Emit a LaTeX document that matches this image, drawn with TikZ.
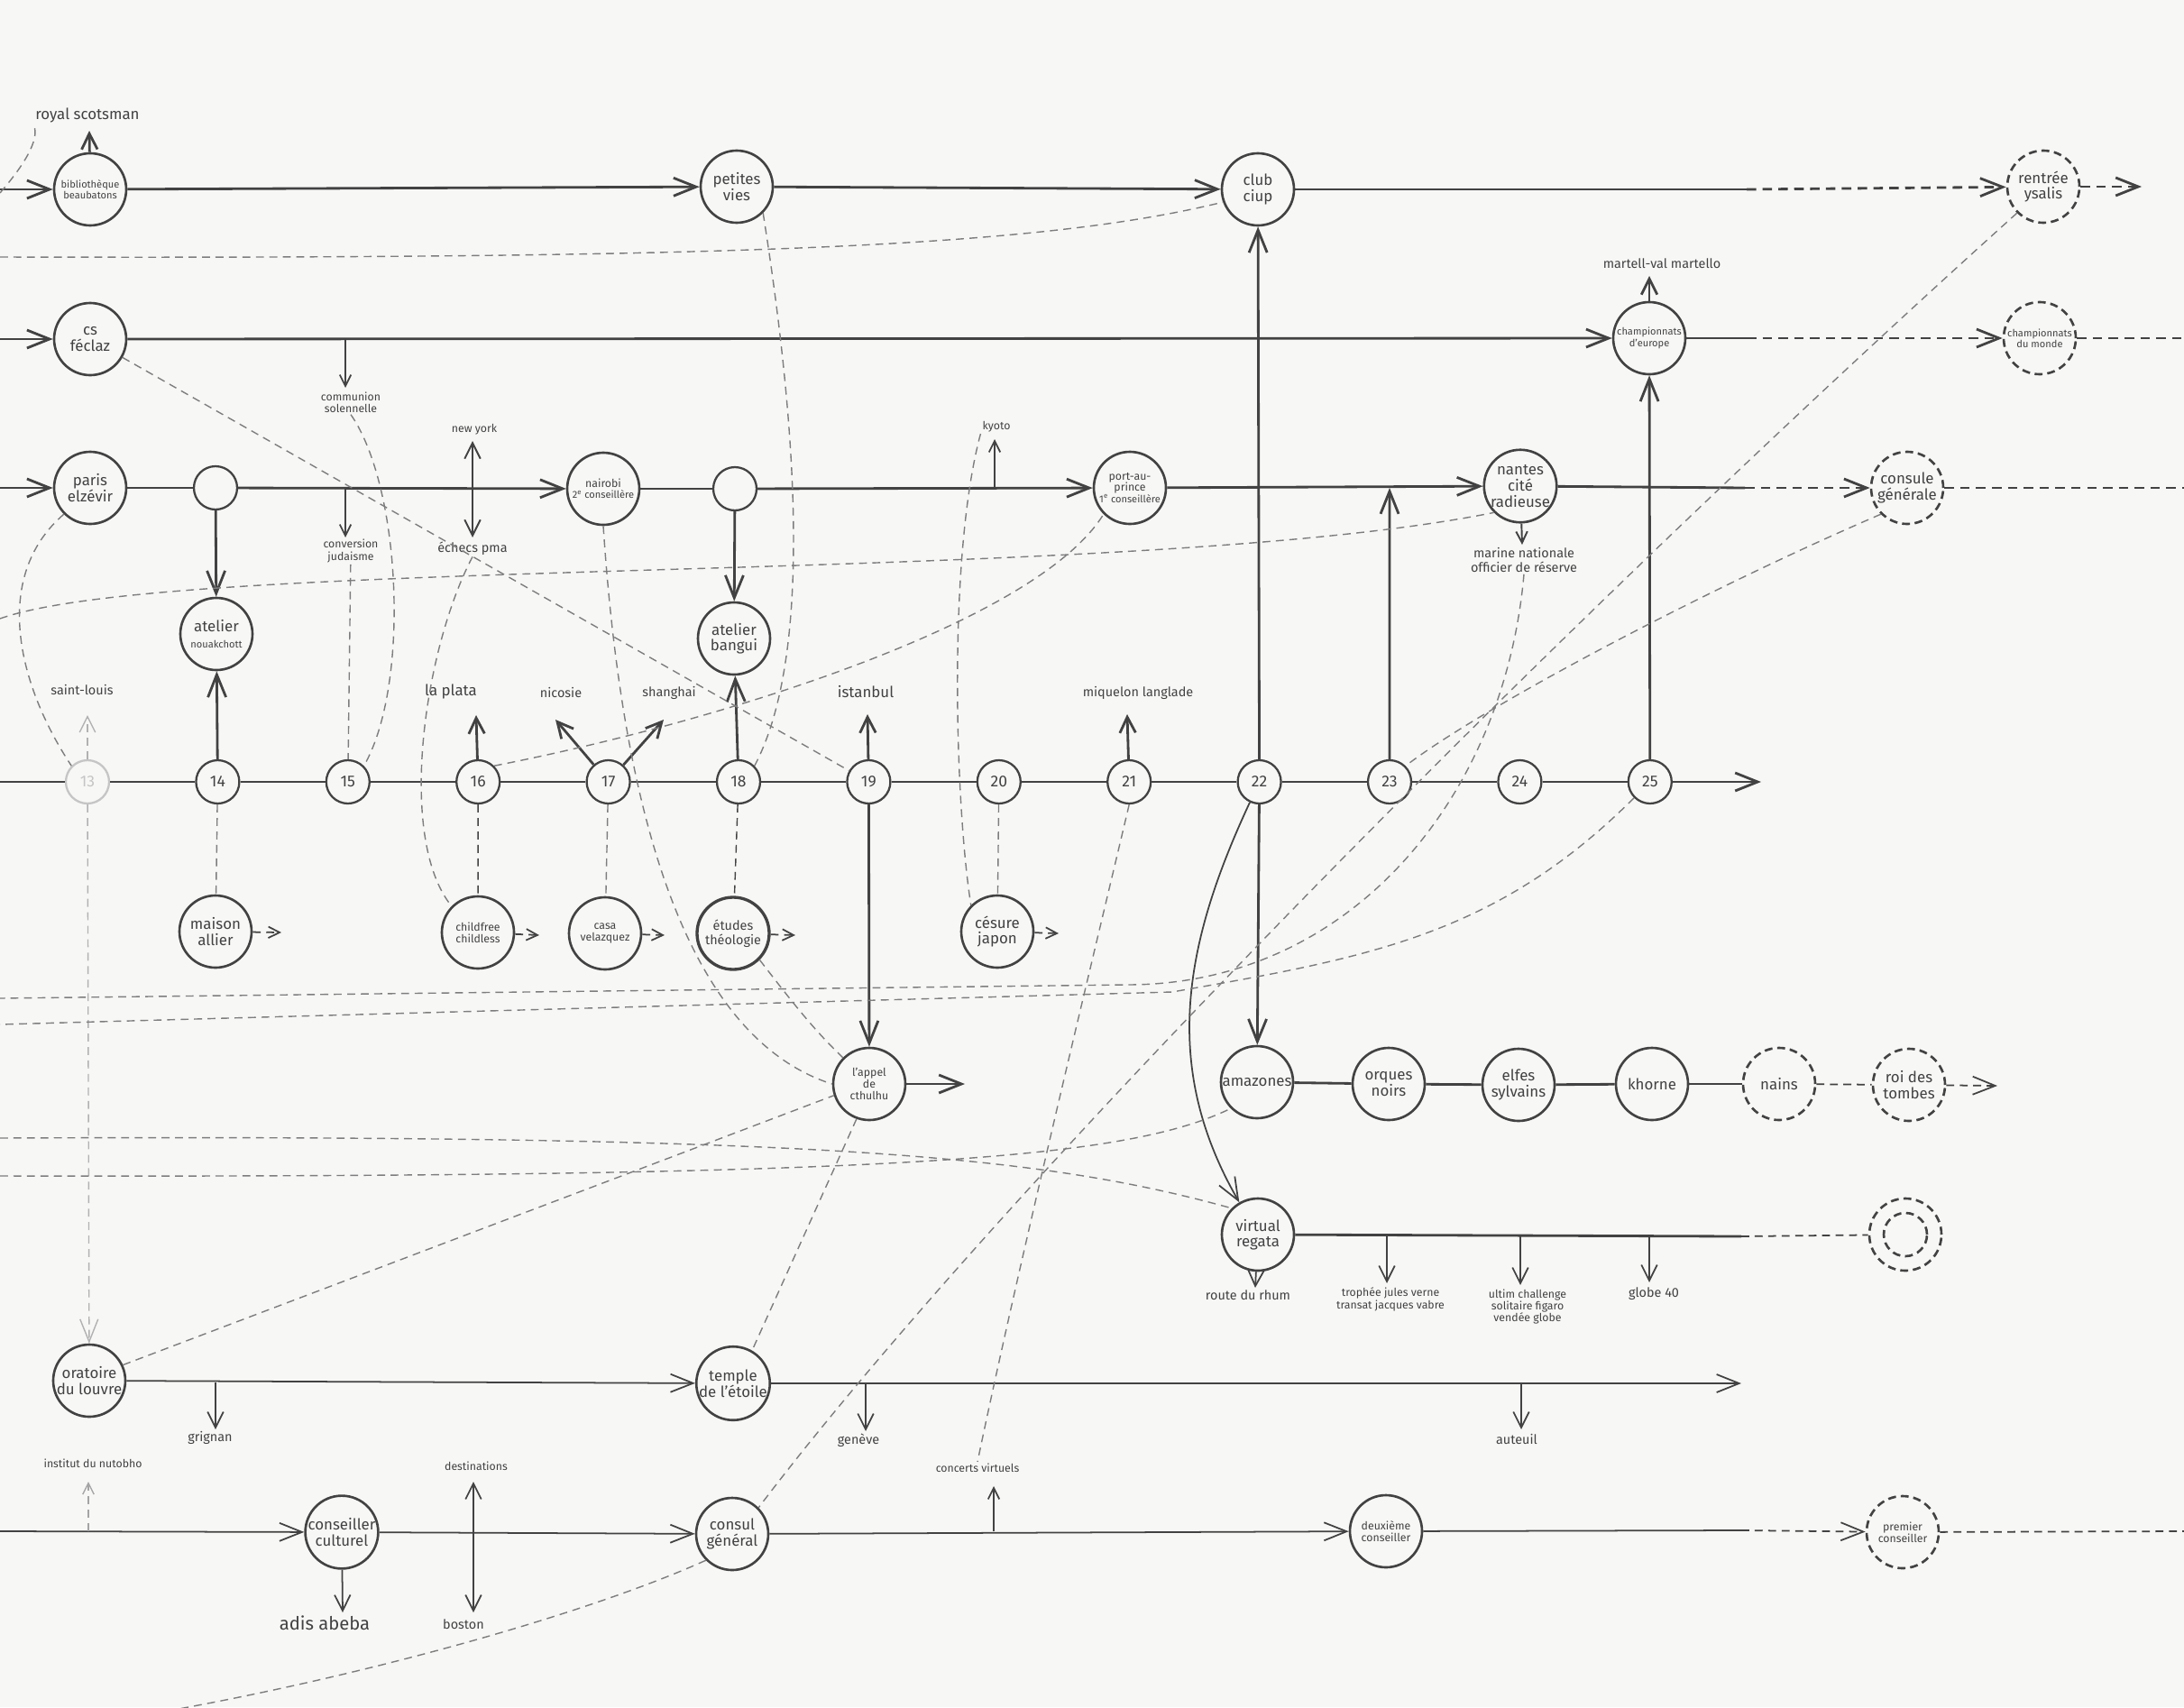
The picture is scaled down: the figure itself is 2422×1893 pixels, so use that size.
\documentclass[tikz,border=0pt]{standalone}
\usepackage{fontspec}
\setmainfont{Fira Sans}
\usetikzlibrary{arrows.meta}
\definecolor{pencil}{RGB}{66,66,66}
\definecolor{lead}{RGB}{125,125,125}
\definecolor{paper}{RGB}{247,247,246}
\newcommand{\hand}{\fontsize{9.6}{10}\selectfont}
\newcommand{\handsm}{\fontsize{8.2}{9}\selectfont}
\newcommand{\handxs}{\fontsize{7}{7.6}\selectfont}
\newcommand{\handtiny}{\fontsize{6.3}{7}\selectfont}
\newcommand{\handnum}{\fontsize{10}{11}\selectfont}
\newcommand{\handbig}{\fontsize{11.5}{12.5}\selectfont}
\tikzset{
  station/.style={circle, draw=pencil, line width=1.5pt, minimum size=1.6cm,
    inner sep=0pt, align=center, font=\hand, text=pencil},
  year/.style={circle, draw=pencil, line width=1.3pt, minimum size=0.96cm,
    inner sep=0pt, font=\handnum, text=pencil},
  future/.style={station, dash pattern=on 5pt off 3pt},
  track/.style={draw=pencil, line width=1.6pt},
  thintrack/.style={draw=pencil, line width=1pt},
  plan/.style={track, dash pattern=on 6pt off 4pt},
  link/.style={draw=lead, line width=0.8pt, dash pattern=on 5pt off 3.5pt},
  lbl/.style={font=\handsm, text=pencil, align=center, inner sep=1pt},
  bigarrow/.style={-{Straight Barb[length=5mm,width=4mm]}},
  midarrow/.style={-{Straight Barb[length=3.5mm,width=3.5mm]}},
  smallarrow/.style={-{Straight Barb[length=2.5mm,width=2.5mm]}},
  twoway/.style={<->, >={Straight Barb[length=3.5mm,width=3.5mm]}},
}

\begin{document}
\begin{tikzpicture}[x=0.2mm, y=-0.2mm]
  \fill[paper] (0,0) rectangle (2422,1893);
  \useasboundingbox (0,0) rectangle (2422,1893);

  % --- free ends ---
  \coordinate (w0) at (0,214);
  \coordinate (w1) at (0,210);
  \coordinate (w2) at (0,376);
  \coordinate (w3) at (0,541);
  \coordinate (w4) at (0,867);
  \coordinate (w5) at (0,1698);
  \coordinate (w6) at (0,285);
  \coordinate (w7) at (0,686);
  \coordinate (w8) at (0,1107);
  \coordinate (w9) at (170,1900);
  \coordinate (w10) at (0,1262);
  \coordinate (w11) at (0,1304);
  \coordinate (w12) at (0,1136);
  \coordinate (e2) at (2422,375);
  \coordinate (e3) at (2422,541);
  \coordinate (e7) at (2422,1698);

  % --- row 1 ---
  \node[station, font=\handtiny] (bib) at (100,210) {bibliothèque\\beaubatons};
  \node[station] (petites) at (817,207) {petites\\vies};
  \node[station] (ciup) at (1395,210) {club\\ciup};
  \node[future] (ysalis) at (2266,207) {rentrée\\ysalis};
  \node[lbl, font=\hand] (royal) at (97,128) {royal scotsman};
  \coordinate (tipbib) at (99,145);
  \coordinate (r1a) at (1937,210);
  \coordinate (r1b) at (2375,207);
  \draw[track, bigarrow] (w1) -- (bib);
  \draw[track, bigarrow] (bib) -- (petites);
  \draw[track, bigarrow] (petites) -- (ciup);
  \draw[track] (ciup) -- (r1a);
  \draw[plan, bigarrow] (r1a) -- (ysalis);
  \draw[plan, bigarrow] (ysalis) -- (r1b);
  \draw[track, midarrow] (bib) -- (tipbib);

  % --- row 2 ---
  \node[station] (cs) at (100,376) {cs\\féclaz};
  \node[station, font=\handtiny] (europe) at (1829,375) {championnats\\d'europe};
  \node[future, font=\handtiny] (monde) at (2262,375) {championnats\\du monde};
  \node[lbl] (martell) at (1843,292) {martell-val martello};
  \node[lbl, font=\handxs] (communion) at (389,446) {communion\\solennelle};
  \coordinate (tipeu) at (1829,306);
  \coordinate (b2) at (383,376);
  \coordinate (tipcom) at (383,430);
  \coordinate (r2a) at (1937,375);
  \draw[track, bigarrow] (w2) -- (cs);
  \draw[track, bigarrow] (cs) -- (europe);
  \draw[track] (europe) -- (r2a);
  \draw[plan, bigarrow] (r2a) -- (monde);
  \draw[plan] (monde) -- (e2);
  \draw[thintrack, smallarrow] (b2) -- (tipcom);
  \draw[track, midarrow] (europe) -- (tipeu);

  % --- row 3 ---
  \node[station] (paris) at (100,541) {paris\\elzévir};
  \node[year] (void1) at (239,541) {};
  \node[station, font=\handtiny] (nairobi) at (669,542) {{\handxs nairobi}\\2\textsuperscript{e} conseillère};
  \node[year] (void2) at (815,542) {};
  \node[station, font=\handtiny] (port) at (1253,541) {{\handxs port-au-}\\{\handxs prince}\\1\textsuperscript{e} conseillère};
  \node[station] (nantes) at (1686,539) {nantes\\cité\\radieuse};
  \node[future] (consule) at (2115,541) {consule\\générale};
  \node[lbl, font=\handxs] (conversion) at (389,611) {conversion\\judaisme};
  \node[lbl, font=\handxs] (newyork) at (526,476) {new york};
  \node[lbl] (echecs) at (524,608) {échecs pma};
  \node[lbl, font=\handxs] (kyoto) at (1105,473) {kyoto};
  \node[lbl] (marine) at (1690,621) {marine nationale\\officier de réserve};
  \coordinate (b3) at (383,541);
  \coordinate (tipconv) at (383,596);
  \coordinate (ny1) at (524,489);
  \coordinate (ny2) at (524,596);
  \coordinate (k3) at (1103,541);
  \coordinate (tipky) at (1103,487);
  \coordinate (j23) at (1541,541);
  \coordinate (tipmar) at (1688,604);
  \coordinate (r3a) at (1935,541);
  \draw[track, bigarrow] (w3) -- (paris);
  \draw[track] (paris) -- (void1);
  \draw[track, bigarrow] (void1) -- (nairobi);
  \draw[track] (nairobi) -- (void2);
  \draw[track, bigarrow] (void2) -- (port);
  \draw[track, bigarrow] (port) -- (nantes);
  \draw[track] (nantes) -- (r3a);
  \draw[plan, bigarrow] (r3a) -- (consule);
  \draw[plan] (consule) -- (e3);
  \draw[thintrack, smallarrow] (b3) -- (tipconv);
  \draw[thintrack, smallarrow] (k3) -- (tipky);
  \draw[track, line width=1.1pt, twoway] (ny1) -- (ny2);
  \draw[track, line width=1.1pt, smallarrow] (nantes) -- (tipmar);

  % --- ateliers ---
  \node[station] (nouakchott) at (240,703) {atelier\\{\handtiny nouakchott}};
  \node[station] (bangui) at (814,708) {atelier\\bangui};
  \draw[track, bigarrow] (void1) -- (nouakchott);
  \draw[track, bigarrow] (void2) -- (bangui);

  % --- years ---
  \node[year, draw=lead!45, text=lead!45] (t13) at (97,867) {13};
  \foreach \n [count=\k from 1] in {14,...,25}
    \node[year] (t\n) at ({97+144.4*\k},867) {\n};
  \coordinate (tend) at (1953,867);
  \draw[track] (w4) -- (t13);
  \foreach \n in {13,...,24} {
    \pgfmathtruncatemacro{\m}{\n+1}
    \draw[track] (t\n) -- (t\m);
  }
  \draw[track, bigarrow] (t25) -- (tend);
  \draw[track, bigarrow] (t14) -- (nouakchott);
  \draw[track, bigarrow] (t18) -- (bangui);
  \draw[track, bigarrow] (t22) -- (ciup);
  \draw[track, bigarrow] (t23) -- (j23);
  \draw[track, bigarrow] (t25) -- (europe);

  % places reached from the years
  \node[lbl] (stlouis) at (91,765) {saint-louis};
  \node[lbl, font=\hand] (laplata) at (500,767) {la plata};
  \node[lbl] (nicosie) at (622,768) {nicosie};
  \node[lbl] (shanghai) at (742,768) {shanghai};
  \node[lbl, font=\hand] (istanbul) at (960,767) {istanbul};
  \node[lbl] (miquelon) at (1262,768) {miquelon langlade};
  \coordinate (tip13) at (97,793);
  \coordinate (tip16) at (528,793);
  \coordinate (tip17a) at (616,798);
  \coordinate (tip17b) at (736,798);
  \coordinate (tip19) at (962,792);
  \coordinate (tip21) at (1250,792);
  \draw[link, draw=lead!60, midarrow] (t13) -- (tip13);
  \draw[track, midarrow] (t16) -- (tip16);
  \draw[track, midarrow] (t17) -- (tip17a);
  \draw[track, midarrow] (t17) -- (tip17b);
  \draw[track, midarrow] (t19) -- (tip19);
  \draw[track, midarrow] (t21) -- (tip21);

  % --- side stations under the years ---
  \node[station] (allier) at (239,1033) {maison\\allier};
  \node[station, font=\handxs] (childfree) at (530,1034) {childfree\\childless};
  \node[station, font=\handxs] (casa) at (671,1035) {casa\\velazquez};
  \node[station, font=\handsm, line width=1.9pt] (etudes) at (813,1035) {études\\théologie};
  \node[station] (cesure) at (1106,1033) {césure\\japon};
  \coordinate (allierout) at (312,1034);
  \coordinate (childfreeout) at (598,1037);
  \coordinate (casaout) at (737,1037);
  \coordinate (etudesout) at (882,1037);
  \coordinate (cesureout) at (1174,1035);
  \foreach \s in {allier, childfree, casa, etudes, cesure}
    \draw[link, draw=pencil, line width=1pt, smallarrow] (\s) -- (\s out);
  \draw[link] (t14) -- (allier);
  \draw[link, draw=pencil] (t16) -- (childfree);
  \draw[link] (t17) -- (casa);
  \draw[link, draw=pencil] (t18) -- (etudes);
  \draw[link] (t20) -- (cesure);

  % --- l'appel de cthulhu and the army line ---
  \node[station, font=\handxs] (appel) at (964,1202) {l'appel\\de\\cthulhu};
  \node[station] (amazones) at (1394,1200) {amazones};
  \node[station] (orques) at (1540,1202) {orques\\noirs};
  \node[station] (elfes) at (1684,1203) {elfes\\sylvains};
  \node[station] (khorne) at (1832,1202) {khorne};
  \node[future] (nains) at (1973,1202) {nains};
  \node[future] (tombes) at (2117,1203) {roi des\\tombes};
  \coordinate (appelout) at (1070,1202);
  \coordinate (tombesout) at (2215,1204);
  \draw[track, bigarrow] (t19) -- (appel);
  \draw[track, bigarrow] (appel) -- (appelout);
  \draw[track, bigarrow] (t22) -- (amazones);
  \draw[track] (amazones) -- (orques);
  \draw[track] (orques) -- (elfes);
  \draw[track] (elfes) -- (khorne);
  \draw[track] (khorne) -- (nains);
  \draw[link, draw=pencil, line width=1pt] (nains) -- (tombes);
  \draw[link, draw=pencil, line width=1pt, bigarrow] (tombes) -- (tombesout);

  % --- virtual regata ---
  \node[station] (regata) at (1395,1369) {virtual\\regata};
  \node[future] (finish) at (2113,1369) {};
  \node[future, minimum size=0.96cm] (finishcore) at (2113,1369) {};
  \node[lbl] (rhum) at (1384,1436) {route du rhum};
  \node[lbl, font=\handxs] (jules) at (1542,1441) {trophée jules verne\\transat jacques vabre};
  \node[lbl, font=\handxs] (ultim) at (1694,1449) {ultim challenge\\solitaire figaro\\vendée globe};
  \node[lbl] (globe) at (1834,1435) {globe 40};
  \coordinate (r5a) at (1931,1371);
  \coordinate (tiprhum) at (1392,1428);
  \coordinate (b23) at (1538,1371);
  \coordinate (tipjv) at (1538,1423);
  \coordinate (b24) at (1686,1371);
  \coordinate (tipul) at (1686,1425);
  \coordinate (b25) at (1829,1371);
  \coordinate (tipgl) at (1829,1422);
  \draw[thintrack, bigarrow] (t22) to[out=245, in=120] (regata);
  \draw[track] (regata) -- (r5a);
  \draw[link, draw=pencil, line width=1pt] (r5a) -- (finish);
  \draw[thintrack, midarrow] (regata) -- (tiprhum);
  \draw[thintrack, midarrow] (b23) -- (tipjv);
  \draw[thintrack, midarrow] (b24) -- (tipul);
  \draw[thintrack, midarrow] (b25) -- (tipgl);

  % --- oratoire line ---
  \node[station] (oratoire) at (99,1531) {oratoire\\du louvre};
  \node[station] (temple) at (813,1534) {temple\\de l'étoile};
  \node[lbl] (grignan) at (233,1594) {grignan};
  \node[lbl] (geneve) at (952,1597) {genève};
  \node[lbl] (auteuil) at (1682,1596) {auteuil};
  \coordinate (r6a) at (1931,1534);
  \coordinate (b6a) at (239,1533);
  \coordinate (tipgr) at (239,1585);
  \coordinate (b6b) at (960,1534);
  \coordinate (tipge) at (960,1587);
  \coordinate (b6c) at (1687,1534);
  \coordinate (tipau) at (1687,1585);
  \draw[link, draw=lead!60, bigarrow] (t13) -- (oratoire);
  \draw[thintrack, bigarrow] (oratoire) -- (temple);
  \draw[thintrack, bigarrow] (temple) -- (r6a);
  \draw[thintrack, midarrow] (b6a) -- (tipgr);
  \draw[thintrack, midarrow] (b6b) -- (tipge);
  \draw[thintrack, midarrow] (b6c) -- (tipau);

  % --- bottom line ---
  \node[station] (culturel) at (379,1699) {conseiller\\culturel};
  \node[station] (consul) at (812,1701) {consul\\général};
  \node[station, font=\handxs] (deuxieme) at (1537,1698) {deuxième\\conseiller};
  \node[future, font=\handxs] (premier) at (2110,1699) {premier\\conseiller};
  \node[lbl, font=\handxs] (institut) at (103,1623) {institut du nutobho};
  \node[lbl, font=\handbig] (adis) at (360,1800) {adis abeba};
  \node[lbl, font=\handxs] (destinations) at (528,1626) {destinations};
  \node[lbl] (boston) at (514,1801) {boston};
  \node[lbl, font=\handxs] (concerts) at (1084,1628) {concerts virtuels};
  \coordinate (b7a) at (98,1698);
  \coordinate (tipin) at (98,1643);
  \coordinate (tipad) at (380,1788);
  \coordinate (ds1) at (525,1643);
  \coordinate (ds2) at (525,1788);
  \coordinate (b7b) at (1102,1698);
  \coordinate (tipco) at (1102,1648);
  \coordinate (r7a) at (1931,1697);
  \draw[thintrack, bigarrow] (w5) -- (culturel);
  \draw[thintrack, bigarrow] (culturel) -- (consul);
  \draw[thintrack, bigarrow] (consul) -- (deuxieme);
  \draw[thintrack] (deuxieme) -- (r7a);
  \draw[link, draw=pencil, line width=1pt, bigarrow] (r7a) -- (premier);
  \draw[link, draw=pencil, line width=1pt] (premier) -- (e7);
  \draw[link, draw=lead!70, line width=0.8pt, smallarrow] (b7a) -- (tipin);
  \draw[thintrack, midarrow] (culturel) -- (tipad);
  \draw[thintrack, twoway] (ds1) -- (ds2);
  \draw[thintrack, smallarrow] (b7b) -- (tipco);

  % --- dashed links between lines ---
  \draw[link] (w0) .. controls (25,185) and (45,155) .. (royal.south west);
  \draw[link] (w6) .. controls (800,287) and (1150,275) .. (ciup.200);
  \draw[link] (cs) -- (t19);
  \draw[link] (communion.south) .. controls (445,540) and (455,760) .. (t15.north east);
  \draw[link] (conversion) -- (t15);
  \draw[link] (echecs.south) .. controls (470,720) and (440,930) .. (childfree.north west);
  \draw[link] (paris.south west) .. controls (-10,640) and (20,760) .. (t13.north west);
  \draw[link] (w7) .. controls (200,615) and (1250,650) .. (nantes.south west);
  \draw[link] (t16.north east) .. controls (800,800) and (1150,690) .. (port.south west);
  \draw[link] (petites.south east) .. controls (880,450) and (905,720) .. (t18.north east);
  \draw[link] (nairobi.south) .. controls (690,900) and (760,1150) .. (appel.west);
  \draw[link] (kyoto.south west) .. controls (1050,620) and (1060,900) .. (cesure.north west);
  \draw[link] (etudes.south east) .. controls (870,1100) and (900,1140) .. (appel.north west);
  \draw[link] (t21.south) .. controls (1215,1050) and (1130,1400) .. (concerts.north);
  \draw[link] (marine.south) to[out=265, in=0] (1250,1092) -- (w8);
  \draw[link] (t25.south west) to[out=225, in=10] (1300,1100) -- (w12);
  \draw[link] (ysalis.south west) .. controls (1700,720) and (1100,1330) .. (consul.north east);
  \draw[link] (consule.south west) .. controls (1900,650) and (1650,780) .. (t23.north east);
  \draw[link] (appel.250) -- (temple.60);
  \draw[link] (oratoire.25) -- (appel.198);
  \draw[link] (consul.south west) .. controls (650,1790) and (400,1860) .. (w9);
  \draw[link] (w10) .. controls (900,1258) and (1150,1280) .. (regata.north west);
  \draw[link] (w11) .. controls (1000,1306) and (1250,1285) .. (amazones.south west);
\end{tikzpicture}
\end{document}
